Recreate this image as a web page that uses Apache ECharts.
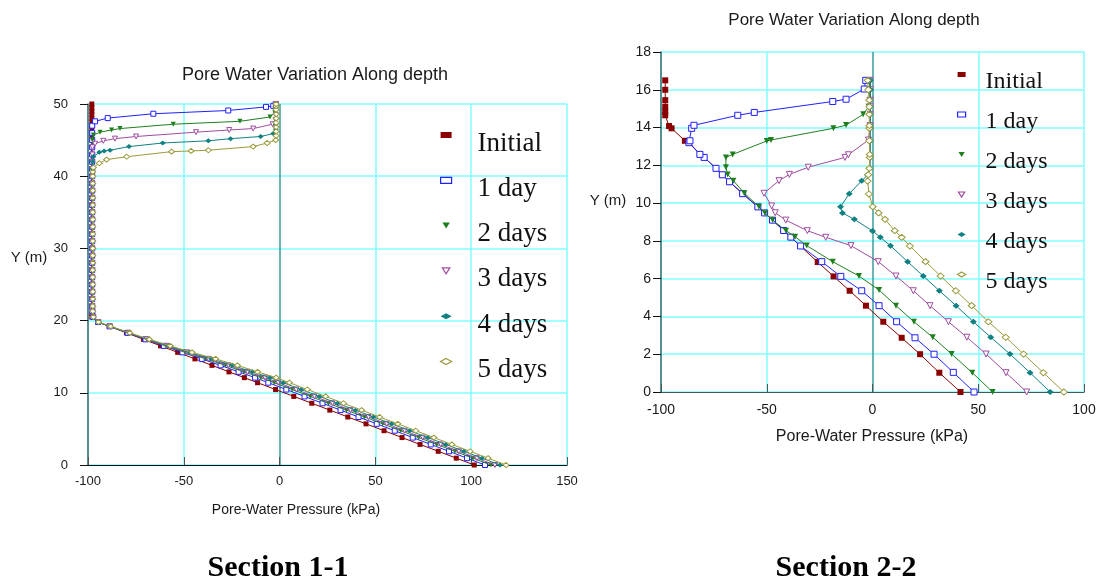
<!DOCTYPE html>
<html>
<head>
<meta charset="utf-8">
<script src="https://cdn.jsdelivr.net/npm/echarts@6/dist/echarts.min.js"></script>
<style>
  html, body { margin: 0; padding: 0; background: #fff; }
  #chart { width: 1103px; height: 584px; }
</style>
</head>
<body>
<div id="chart"></div>
<script>
// Legend names and labels
const seriesNames = ['Initial', '1 day', '2 days', '3 days', '4 days', '5 days'];
const chartTitles = ['Pore Water Variation Along depth', 'Pore Water Variation Along depth'];
const sectionLabels = ['Section 1-1', 'Section 2-2'];
const xAxisTitle = 'Pore-Water Pressure (kPa)';
const yAxisTitle = 'Y (m)';

// Section 1-1: [pore-water pressure (kPa), elevation Y (m)]
const s1Initial = [[101.6,0],[92.2,0.95],[82.8,1.9],[73.3,2.85],[63.9,3.8],[54.5,4.75],[45.1,5.7],[35.6,6.65],[26.2,7.6],[16.8,8.55],[7.4,9.5],[-2.1,10.45],[-11.5,11.4],[-18.4,12.1],[-26.4,12.9],[-35.3,13.8],[-44.2,14.7],[-53.2,15.6],[-62.1,16.5],[-71.0,17.4],[-79.9,18.3],[-88.9,19.2],[-94.8,19.8],[-98,20.5],[-98,21],[-98,22],[-98,23],[-98,24],[-98,25],[-98,26],[-98,27],[-98,28],[-98,29],[-98,30],[-98,31],[-98,32],[-98,33],[-98,34],[-98,35],[-98,36],[-98,37],[-98,38],[-98,39],[-98,40],[-98,41],[-98,42],[-98,43],[-98,44],[-98,45],[-98,45.5],[-98,46],[-98,46.5],[-98,47],[-98,47.5],[-98,48],[-98,48.5],[-98,49],[-98,49.5],[-98,50]];
const s1Day1 = [[107.2,0],[97.8,0.95],[88.4,1.9],[78.9,2.85],[69.5,3.8],[60.1,4.75],[50.7,5.7],[41.2,6.65],[31.8,7.6],[22.4,8.55],[13.0,9.5],[3.5,10.45],[-5.9,11.4],[-12.8,12.1],[-21.4,12.9],[-30.8,13.8],[-40.6,14.7],[-50.7,15.6],[-60.4,16.5],[-70.0,17.4],[-79.3,18.3],[-88.7,19.2],[-94.7,19.8],[-97.3,20.5],[-97.7,21.3],[-97.8,22],[-97.8,23],[-97.8,24],[-97.8,25],[-97.8,26],[-97.8,27],[-97.8,28],[-97.8,29],[-97.8,30],[-97.8,31],[-97.8,32],[-97.8,33],[-97.8,34],[-97.8,35],[-97.8,36],[-97.8,37],[-97.8,38],[-97.8,39],[-97.8,40],[-97.8,41],[-97.8,42],[-97.8,43],[-97.8,44],[-97.8,45],[-97.8,46],[-97.8,47],[-96.3,47.6],[-89.7,48.05],[-65.9,48.65],[-26.8,49.1],[-7.1,49.6],[-3.3,49.75],[-2,50]];
const s1Day2 = [[110.3,0],[100.9,0.95],[91.5,1.9],[82.0,2.85],[72.6,3.8],[63.2,4.75],[53.8,5.7],[44.3,6.65],[34.9,7.6],[25.5,8.55],[16.1,9.5],[6.6,10.45],[-2.8,11.4],[-9.7,12.1],[-18.6,12.9],[-28.3,13.8],[-38.5,14.7],[-49.3,15.6],[-59.5,16.5],[-69.4,17.4],[-79.0,18.3],[-88.6,19.2],[-94.7,19.8],[-97.3,20.5],[-97.7,21.3],[-97.7,22],[-97.7,23],[-97.7,24],[-97.7,25],[-97.7,26],[-97.7,27],[-97.7,28],[-97.7,29],[-97.7,30],[-97.7,31],[-97.7,32],[-97.7,33],[-97.7,34],[-97.7,35],[-97.7,36],[-97.7,37],[-97.7,38],[-97.7,39],[-97.7,40],[-97.7,41],[-97.7,42],[-97.7,43],[-97.7,44],[-97.7,45],[-97.2,45.7],[-93.7,46.1],[-87.7,46.4],[-83.3,46.6],[-55.5,47.2],[-20.7,47.6],[-5,48.2],[-2.5,48.8],[-2,49.4],[-2,50]];
const s1Day3 = [[112.4,0],[103.0,0.95],[93.6,1.9],[84.1,2.85],[74.7,3.8],[65.3,4.75],[55.9,5.7],[46.4,6.65],[37.0,7.6],[27.6,8.55],[18.2,9.5],[8.7,10.45],[-0.7,11.4],[-7.6,12.1],[-16.7,12.9],[-26.7,13.8],[-37.2,14.7],[-48.3,15.6],[-58.9,16.5],[-69.1,17.4],[-78.8,18.3],[-88.5,19.2],[-94.6,19.8],[-97.3,20.5],[-97.7,21.3],[-97.7,22],[-97.7,23],[-97.7,24],[-97.7,25],[-97.7,26],[-97.7,27],[-97.7,28],[-97.7,29],[-97.7,30],[-97.7,31],[-97.7,32],[-97.7,33],[-97.7,34],[-97.7,35],[-97.7,36],[-97.7,37],[-97.7,38],[-97.7,39],[-97.7,40],[-97.7,41],[-97.7,42],[-97.7,43],[-97.7,44],[-96.3,44.5],[-92,44.9],[-85.9,45.2],[-74.9,45.5],[-43.6,46.1],[-26.3,46.4],[-13.8,46.6],[-3.6,47.2],[-2,47.8],[-2,48.5],[-2,49.2],[-2,50]];
const s1Day4 = [[115.0,0],[105.6,0.95],[96.2,1.9],[86.7,2.85],[77.3,3.8],[67.9,4.75],[58.5,5.7],[49.0,6.65],[39.6,7.6],[30.2,8.55],[20.8,9.5],[11.3,10.45],[1.9,11.4],[-5.0,12.1],[-14.3,12.9],[-24.6,13.8],[-35.5,14.7],[-47.2,15.6],[-58.1,16.5],[-68.6,17.4],[-78.6,18.3],[-88.4,19.2],[-94.6,19.8],[-97.3,20.5],[-97.6,21.3],[-97.6,22],[-97.6,23],[-97.6,24],[-97.6,25],[-97.6,26],[-97.6,27],[-97.6,28],[-97.6,29],[-97.6,30],[-97.6,31],[-97.6,32],[-97.6,33],[-97.6,34],[-97.6,35],[-97.6,36],[-97.6,37],[-97.6,38],[-97.6,39],[-97.6,40],[-97.6,41],[-97.6,42],[-97.2,42.7],[-94.1,43.3],[-91.6,43.5],[-88.5,43.6],[-78.6,44.1],[-61,44.6],[-37.2,44.9],[-25.6,45.2],[-9.9,45.5],[-3.3,45.9],[-2,46.5],[-2,47.2],[-2,48],[-2,48.7],[-2,49.4],[-2,50]];
const s1Day5 = [[118.2,0],[108.8,0.95],[99.4,1.9],[89.9,2.85],[80.5,3.8],[71.1,4.75],[61.7,5.7],[52.2,6.65],[42.8,7.6],[33.4,8.55],[24.0,9.5],[14.5,10.45],[5.1,11.4],[-1.8,12.1],[-11.5,12.9],[-22.0,13.8],[-33.4,14.7],[-45.7,15.6],[-57.1,16.5],[-68.0,17.4],[-78.2,18.3],[-88.2,19.2],[-94.5,19.8],[-97.2,20.5],[-97.5,21.3],[-97.5,22],[-97.5,23],[-97.5,24],[-97.5,25],[-97.5,26],[-97.5,27],[-97.5,28],[-97.5,29],[-97.5,30],[-97.5,31],[-97.5,32],[-97.5,33],[-97.5,34],[-97.5,35],[-97.5,36],[-97.5,37],[-97.5,38],[-97.5,39],[-97.5,40],[-97.5,40.6],[-97.2,41.2],[-94.1,41.8],[-90.3,42.3],[-79.8,42.7],[-56.4,43.4],[-46.2,43.5],[-37.2,43.6],[-13.8,44.1],[-6.5,44.6],[-2,45],[-1.8,45.6],[-1.8,46.2],[-1.8,46.8],[-1.8,47.4],[-1.8,48],[-1.8,48.6],[-1.8,49.2],[-1.8,49.7],[-1.8,50]];

// Section 2-2: [pore-water pressure (kPa), elevation Y (m)]
const s2Initial = [[41.6,0],[31.6,1.02],[22.5,2.0],[13.8,2.87],[5.1,3.72],[-3.1,4.57],[-10.8,5.36],[-18.4,6.12],[-25.9,6.88],[-34.2,7.73],[-38.6,8.2],[-42,8.55],[-47.3,9.1],[-51,9.48],[-54.2,9.8],[-61.4,10.5],[-67.6,11.13],[-71,11.5],[-74,11.84],[-79.6,12.42],[-81.6,12.58],[-87.2,13.28],[-88.7,13.3],[-95,13.96],[-96.2,14.08],[-98,14.65],[-98,14.85],[-98,15.1],[-98,15.45],[-98,16.0],[-98,16.5]];
const s2Day1 = [[48,0],[38.2,1.04],[29.1,2.0],[20.1,2.87],[11.4,3.72],[3.1,4.57],[-5.1,5.36],[-15,6.12],[-24,6.9],[-34,7.73],[-38.6,8.2],[-42,8.55],[-47.3,9.1],[-51,9.48],[-54.2,9.8],[-61.4,10.5],[-67.6,11.13],[-71,11.5],[-74,11.84],[-79.6,12.42],[-81.6,12.58],[-86.8,13.2],[-86.3,13.3],[-85.5,13.96],[-84.4,14.12],[-63.7,14.65],[-55.9,14.8],[-18.8,15.38],[-12.5,15.5],[-3.9,16.04],[-3.2,16.5]];
const s2Day2 = [[56.8,0],[47.2,1.02],[37.4,2.01],[28.5,2.9],[19.6,3.72],[11.1,4.57],[3.1,5.4],[-6.4,6.14],[-18.8,6.9],[-31.1,7.75],[-36.6,8.22],[-40.9,8.54],[-47.2,9.1],[-50.8,9.46],[-53.7,9.81],[-60.6,10.52],[-65.8,11.19],[-68.5,11.52],[-69.3,11.9],[-69.3,12.42],[-66.1,12.58],[-50,13.29],[-48,13.34],[-18.5,13.96],[-12.5,14.13],[-4.4,14.7],[-1.8,15.1],[-1.5,15.45],[-1.5,16.0],[-1.5,16.5]];
const s2Day3 = [[72.9,0],[63.1,1.02],[53.7,2.01],[44.6,2.9],[35.9,3.72],[27.2,4.57],[19.3,5.36],[11.1,6.14],[2.7,6.9],[-10.2,7.75],[-22.1,8.19],[-30.8,8.54],[-41,9.1],[-46,9.49],[-47.7,9.85],[-51.3,10.52],[-44.2,11.19],[-39.3,11.52],[-30.4,11.9],[-13,12.42],[-11.4,12.56],[-1.9,13.34],[-1.3,13.96],[-1.2,14.1],[-1,14.7],[-1,15.1],[-1,15.45],[-1,16.0],[-1,16.5]];
const s2Day4 = [[84,0],[74.5,1.02],[65,2.01],[55.9,2.9],[47.7,3.72],[39.5,4.57],[31.6,5.36],[24,6.14],[16.6,6.9],[8.5,7.74],[3.7,8.19],[0,8.53],[-8.6,9.14],[-14.2,9.48],[-15.1,9.81],[-11,10.5],[-5.1,11.18],[-2.3,11.49],[-1.2,11.84],[-1,12.42],[-1,12.58],[-1,13.3],[-1,13.96],[-1,14.1],[-1,14.7],[-1,15.1],[-1,15.45],[-1,16.0],[-1,16.5]];
const s2Day5 = [[90.5,0],[80.8,1.02],[71.4,2.01],[63,2.9],[54.8,3.72],[46.9,4.57],[39.4,5.36],[32.2,6.14],[25.1,6.9],[17.7,7.73],[13.8,8.19],[10.5,8.54],[5.9,9.14],[2.9,9.48],[0.1,9.81],[-1.7,10.48],[-2.3,11.17],[-2,11.5],[-1.5,11.84],[-1.3,12.42],[-1.3,12.58],[-1.5,13.3],[-1.5,13.96],[-1.5,14.1],[-1.5,14.7],[-1.5,15.1],[-1.5,15.45],[-2,16.0],[-2.3,16.5]];

// Axis ranges and tick steps
const s1XTicks = { min: -100, max: 150, interval: 50 };
const s1YTicks = { min: 0, max: 50, interval: 10 };
const s2XTicks = { min: -100, max: 100, interval: 50 };
const s2YTicks = { min: 0, max: 18, interval: 2 };

const section1 = [s1Initial, s1Day1, s1Day2, s1Day3, s1Day4, s1Day5];
const section2 = [s2Initial, s2Day1, s2Day2, s2Day3, s2Day4, s2Day5];

const SANS = "'Liberation Sans', Arial, sans-serif";
const SERIF = "'Liberation Serif', 'Times New Roman', serif";
const CYAN = '#80ffff';
const TEAL = '#3a9c9c';
const DOWN_TRIANGLE = 'path://M0,0L10,0L5,8Z';

// marker look for each time step
const looks = [
  { line: '#8b0000', fill: '#8b0000', symbol: 'rect', icon: 'rect', hollow: false },
  { line: '#2020ff', fill: '#ffffff', symbol: 'rect', icon: 'rect', hollow: true },
  { line: '#1f7f1f', fill: '#1f7f1f', symbol: DOWN_TRIANGLE, icon: DOWN_TRIANGLE, hollow: false },
  { line: '#a04ca0', fill: '#ffffff', symbol: DOWN_TRIANGLE, icon: DOWN_TRIANGLE, hollow: true },
  { line: '#108080', fill: '#108080', symbol: 'diamond', icon: 'diamond', hollow: false },
  { line: '#9a9a3c', fill: '#ffffff', symbol: 'diamond', icon: 'diamond', hollow: true }
];

function makeSeries(dataSets, axisIndex, size) {
  return dataSets.map((data, i) => {
    const lk = looks[i];
    return {
      name: seriesNames[i],
      type: 'line',
      xAxisIndex: axisIndex,
      yAxisIndex: axisIndex,
      data: data,
      symbol: lk.symbol,
      symbolSize: lk.symbol === 'diamond' ? [size + 1, size] : size,
      showAllSymbol: true,
      lineStyle: { color: lk.line, width: 1 },
      itemStyle: { color: lk.fill, borderColor: lk.line, borderWidth: lk.hollow ? 1 : 0 },
      emphasis: { disabled: true },
      z: 3 + i
    };
  });
}

function legendData() {
  return seriesNames.map((n, i) => ({
    name: n,
    icon: looks[i].icon,
    itemStyle: { color: looks[i].fill, borderColor: looks[i].line, borderWidth: looks[i].hollow ? 1.2 : 0 }
  }));
}

// legend text sits a little below its marker
function legendFor(left, top, gap, iconW, iconH, fontSize, lineH, textGap) {
  return {
    orient: 'vertical', left: left, top: top, padding: 0, itemGap: gap,
    itemWidth: iconW, itemHeight: iconH, selectedMode: false,
    formatter: '{t|{name}}',
    textStyle: {
      fontFamily: SERIF, fontSize: fontSize, color: '#111', padding: [0, 0, 0, textGap],
      rich: { t: { fontFamily: SERIF, fontSize: fontSize, color: '#111', lineHeight: lineH, verticalAlign: 'bottom' } }
    },
    data: legendData()
  };
}

function xAxisFor(grid, ticks, lineColor, splitColors, fontSize, margin) {
  return {
    type: 'value', gridIndex: grid,
    min: ticks.min, max: ticks.max, interval: ticks.interval,
    axisLine: { show: true, onZero: false, lineStyle: { color: lineColor, width: 1.2 } },
    axisTick: { show: true, inside: true, length: 8, lineStyle: { color: '#555' } },
    axisLabel: { fontSize: fontSize, fontFamily: SANS, color: '#1a1a1a', margin: margin },
    splitLine: { show: true, lineStyle: { color: splitColors, width: 1.5 } }
  };
}

function yAxisFor(grid, ticks, fontSize, margin) {
  return {
    type: 'value', gridIndex: grid,
    min: ticks.min, max: ticks.max, interval: ticks.interval,
    axisLine: { show: true, onZero: false, lineStyle: { color: '#4a8888', width: 1.5 } },
    axisTick: { show: true, inside: false, length: 8, lineStyle: { color: '#111' } },
    axisLabel: { fontSize: fontSize, fontFamily: SANS, color: '#1a1a1a', margin: margin },
    splitLine: { show: true, lineStyle: { color: CYAN, width: 1.5 } }
  };
}

function label(text, x, y, size, opts) {
  return {
    type: 'text', x: x, y: y, silent: true,
    style: Object.assign({
      text: text, fontSize: size, fontFamily: SANS, fill: '#1a1a1a',
      align: 'center', verticalAlign: 'middle'
    }, opts || {})
  };
}

const chart = echarts.init(document.getElementById('chart'), null, { renderer: 'canvas' });

chart.setOption({
  animation: false,
  backgroundColor: '#ffffff',
  grid: [
    { left: 88, top: 104, width: 479, height: 361, containLabel: false },
    { left: 661, top: 52, width: 423, height: 340, containLabel: false }
  ],
  xAxis: [
    xAxisFor(0, s1XTicks, '#111', ['#4a8888', CYAN, TEAL, CYAN, CYAN, CYAN], 13, 10),
    xAxisFor(1, s2XTicks, '#3c5c5c', ['#4a8888', CYAN, TEAL, CYAN, CYAN], 14, 11)
  ],
  yAxis: [
    yAxisFor(0, s1YTicks, 13, 20),
    yAxisFor(1, s2YTicks, 14, 10)
  ],
  legend: [
    legendFor(440, 130, 18.3, 11, 6, 27, 44, 21),
    legendFor(957, 70, 16, 8, 5, 24, 39, 15)
  ],
  graphic: [
    label(chartTitles[0], 315, 75, 18),
    label(chartTitles[1], 854, 20, 17),
    label(xAxisTitle, 296, 510, 14),
    label(xAxisTitle, 872, 437, 16),
    label(yAxisTitle, 29, 258, 15),
    label(yAxisTitle, 608, 201, 15),
    label(sectionLabels[0], 278, 568, 30, { fontFamily: SERIF, fontWeight: 'bold', fill: '#000' }),
    label(sectionLabels[1], 846, 568, 30, { fontFamily: SERIF, fontWeight: 'bold', fill: '#000' })
  ],
  series: makeSeries(section1, 0, 5).concat(makeSeries(section2, 1, 6))
});
</script>
</body>
</html>
